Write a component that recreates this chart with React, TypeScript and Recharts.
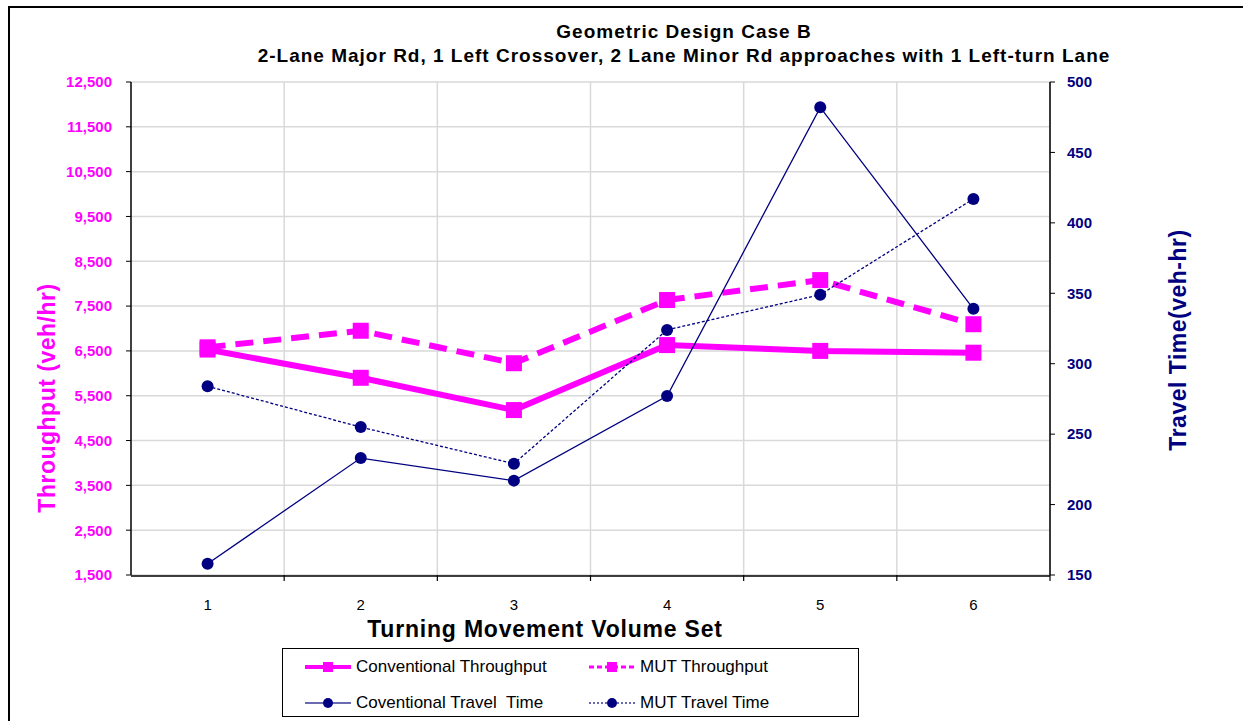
import React from 'react';
import { ComposedChart, Line, XAxis, YAxis, CartesianGrid } from 'recharts';

const sets = [1, 2, 3, 4, 5, 6];
const conventionalThroughput = [6530, 5900, 5180, 6630, 6500, 6460];
const mutThroughput = [6580, 6950, 6225, 7635, 8080, 7095];
const conventionalTravelTime = [158, 233, 217, 277, 482, 339];
const mutTravelTime = [284, 255, 229, 324, 349, 417];

const throughputTicks = [1500, 2500, 3500, 4500, 5500, 6500, 7500, 8500, 9500, 10500, 11500, 12500];
const travelTimeTicks = [150, 200, 250, 300, 350, 400, 450, 500];
const setTicks = [1, 2, 3, 4, 5, 6];
const boundaryTicks = [1.5, 2.5, 3.5, 4.5, 5.5, 6.5];

const MAGENTA = '#FF00FF';
const NAVY = '#000080';
const FONT = '"Liberation Sans", Arial, sans-serif';

const data = sets.map((s, i) => ({
  set: s,
  convT: conventionalThroughput[i],
  mutT: mutThroughput[i],
  convTT: conventionalTravelTime[i],
  mutTT: mutTravelTime[i],
}));

const fmt = (v: number) => v.toLocaleString('en-US');

const SquareDot = (props: any) => {
  const { cx, cy, index } = props;
  if (cx == null || cy == null) return <g key={`e-${index}`} />;
  return <rect key={`sq-${props.dataKey}-${index}`} x={cx - 8} y={cy - 8} width={16} height={16} fill={MAGENTA} stroke="none" />;
};

const EmptyTick = () => <g />;

const scaleOf = (axis: any, v: number) => {
  const s = axis && axis.scale;
  if (typeof s === 'function') return s(v);
  if (s && typeof s.map === 'function') return s.map(v);
  return 0;
};

const legendItems = [
  { name: 'Conventional Throughput', color: MAGENTA, width: 4, dash: undefined as string | undefined, marker: 'square' },
  { name: 'MUT Throughput', color: MAGENTA, width: 3, dash: '5 3', marker: 'square' },
  { name: 'Coventional Travel  Time', color: '#3a3a9a', width: 1.5, dash: undefined, marker: 'circle' },
  { name: 'MUT Travel Time', color: '#3a3a9a', width: 1.5, dash: '2 2', marker: 'circle' },
];

const LegendIcon = ({ item }: { item: typeof legendItems[number] }) => (
  <svg width={46} height={16} style={{ display: 'block' }}>
    <line x1={0} y1={8} x2={46} y2={8} stroke={item.color} strokeWidth={item.width} strokeDasharray={item.dash} />
    {item.marker === 'square' ? (
      <rect x={18} y={3} width={10} height={10} fill={MAGENTA} />
    ) : (
      <circle cx={23} cy={8} r={5} fill={NAVY} />
    )}
  </svg>
);

export default function App() {
  return (
    <div style={{ position: 'absolute', left: 0, top: 0, width: 1243, height: 721, background: '#fff', overflow: 'hidden', fontFamily: FONT }}>
      <div style={{ position: 'absolute', left: 8, top: 6, width: 1300, height: 800, borderLeft: '2px solid #000', borderTop: '2px solid #000' }} />
      <div style={{ position: 'absolute', left: 0, width: 1368, top: 20, textAlign: 'center', fontWeight: 'bold', fontSize: 19, lineHeight: '24px', color: '#000', letterSpacing: 1 }}>
        <div>Geometric Design Case B</div>
        <div>2-Lane Major Rd, 1 Left Crossover, 2 Lane Minor Rd approaches with 1 Left-turn Lane</div>
      </div>
      <div style={{ position: 'absolute', left: 0, top: 0 }}>
        <ComposedChart width={1243} height={721} data={data} margin={{ top: 82, left: 31, right: 93, bottom: 115 }}>
          <XAxis
            xAxisId="bounds"
            type="number"
            dataKey="set"
            domain={[0.5, 6.5]}
            ticks={boundaryTicks}
            interval={0}
            height={1}
            tick={<EmptyTick />}
            axisLine={false}
            tickLine={{ stroke: '#000', strokeWidth: 1.2 }}
            tickSize={6}
          />
          <XAxis
            xAxisId="main"
            type="number"
            dataKey="set"
            domain={[0.5, 6.5]}
            ticks={setTicks}
            interval={0}
            height={30}
            tickLine={false}
            axisLine={{ stroke: '#000', strokeWidth: 1.5 }}
            tick={{ fill: '#000', fontSize: 15, fontFamily: FONT }}
            tickMargin={17}
          />
          <YAxis
            yAxisId="left"
            orientation="left"
            width={100}
            domain={[1500, 12500]}
            ticks={throughputTicks}
            tickFormatter={fmt}
            interval={0}
            axisLine={{ stroke: '#000', strokeWidth: 1.5 }}
            tickLine={{ stroke: '#000' }}
            tickSize={5}
            tickMargin={14}
            tick={{ fill: MAGENTA, fontSize: 15, fontWeight: 'bold', fontFamily: FONT }}
          />
          <YAxis
            yAxisId="right"
            orientation="right"
            width={100}
            domain={[150, 500]}
            ticks={travelTimeTicks}
            interval={0}
            axisLine={{ stroke: '#000', strokeWidth: 1.5 }}
            tickLine={{ stroke: '#000' }}
            tickSize={5}
            tickMargin={12}
            tick={{ fill: NAVY, fontSize: 15, fontWeight: 'bold', fontFamily: FONT }}
          />
          <CartesianGrid
            xAxisId="main"
            yAxisId="left"
            stroke="#d9d9d9"
            strokeWidth={1.5}
            verticalCoordinatesGenerator={({ xAxis }: any) => boundaryTicks.map((v) => scaleOf(xAxis, v))}
          />
          <Line
            xAxisId="main"
            yAxisId="left"
            dataKey="convT"
            stroke={MAGENTA}
            strokeWidth={6}
            dot={SquareDot}
            activeDot={false}
            isAnimationActive={false}
          />
          <Line
            xAxisId="main"
            yAxisId="left"
            dataKey="mutT"
            stroke={MAGENTA}
            strokeWidth={6}
            strokeDasharray="18 10"
            dot={SquareDot}
            activeDot={false}
            isAnimationActive={false}
          />
          <Line
            xAxisId="main"
            yAxisId="right"
            dataKey="convTT"
            stroke={NAVY}
            strokeWidth={1.3}
            dot={{ r: 6, fill: NAVY, stroke: 'none', strokeDasharray: '' }}
            activeDot={false}
            isAnimationActive={false}
          />
          <Line
            xAxisId="main"
            yAxisId="right"
            dataKey="mutTT"
            stroke={NAVY}
            strokeWidth={1.3}
            strokeDasharray="3 2"
            dot={{ r: 6, fill: NAVY, stroke: 'none', strokeDasharray: '' }}
            activeDot={false}
            isAnimationActive={false}
          />
        </ComposedChart>
      </div>
      <div style={{ position: 'absolute', left: 47, top: 398, transform: 'translate(-50%, -50%) rotate(-90deg)', whiteSpace: 'nowrap', color: MAGENTA, fontWeight: 'bold', fontSize: 23, letterSpacing: 0.5 }}>
        Throughput (veh/hr)
      </div>
      <div style={{ position: 'absolute', left: 1178, top: 340, transform: 'translate(-50%, -50%) rotate(-90deg)', whiteSpace: 'nowrap', color: NAVY, fontWeight: 'bold', fontSize: 23, letterSpacing: 0.5 }}>
        Travel Time(veh-hr)
      </div>
      <div style={{ position: 'absolute', left: 0, width: 1090, top: 616, textAlign: 'center', fontWeight: 'bold', fontSize: 23, color: '#000', letterSpacing: 0.8 }}>
        Turning Movement Volume Set
      </div>
      <div style={{ position: 'absolute', left: 282, top: 648, width: 577, height: 69, border: '1px solid #000', boxSizing: 'border-box', background: '#fff' }}>
        {legendItems.map((item, i) => (
          <div
            key={item.name}
            style={{
              position: 'absolute',
              left: i % 2 === 0 ? 22 : 306,
              top: i < 2 ? 8 : 44,
              display: 'flex',
              alignItems: 'center',
              fontSize: 17,
              color: '#000',
              whiteSpace: 'pre',
            }}
          >
            <LegendIcon item={item} />
            <span style={{ marginLeft: 5 }}>{item.name}</span>
          </div>
        ))}
      </div>
    </div>
  );
}
